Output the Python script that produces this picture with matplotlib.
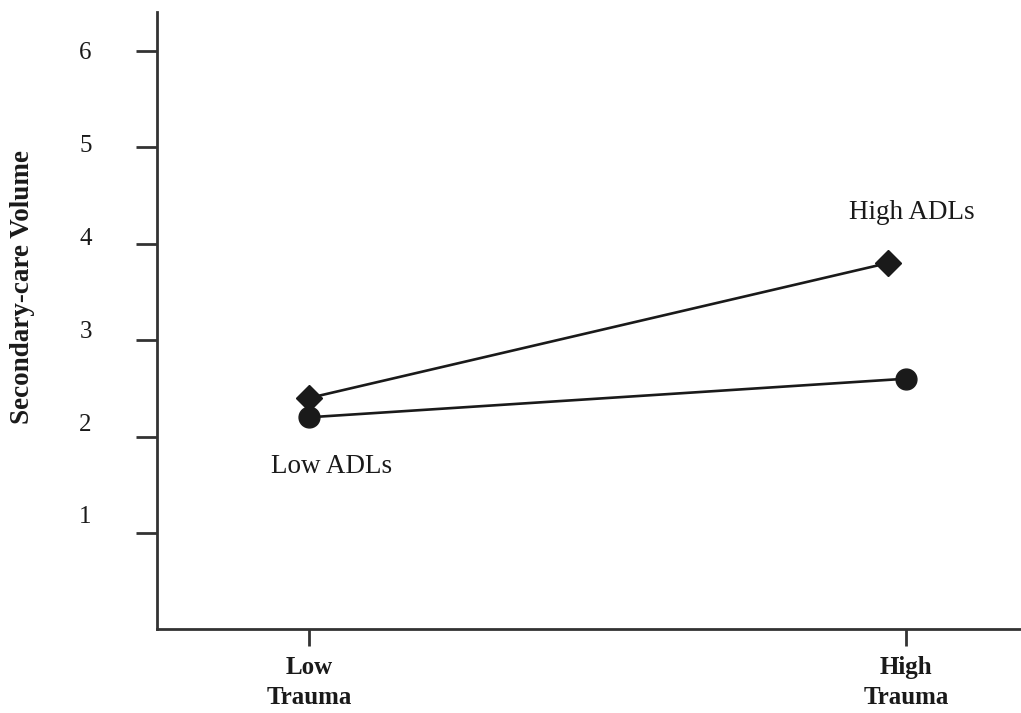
import numpy as np
import matplotlib.pyplot as plt

# trauma level on x, secondary-care volume on y, one line per ADL group
trauma_levels = ['Low\nTrauma', 'High\nTrauma']
trauma_x = [0, 1]
high_adl_x = [0, 0.97]
high_adl_y = [2.4, 3.8]
low_adl_x = [0, 1]
low_adl_y = [2.2, 2.6]
y_ticks = [1, 2, 3, 4, 5, 6]

plt.rcParams['font.family'] = ['Liberation Serif', 'DejaVu Serif']
ink = '#1a1a1a'
axis_col = '#333333'

fig = plt.figure(figsize=(10.21, 7.13), dpi=100)
ax = fig.add_axes([0.1538, 0.1173, 0.8462, 0.8653])

ax.plot(high_adl_x, high_adl_y, color=ink, lw=1.9, marker='D', markersize=13,
        zorder=3)
ax.plot(low_adl_x, low_adl_y, color=ink, lw=1.9, marker='o', markersize=15,
        zorder=3)

ax.text(1.01, 4.32, 'High ADLs', ha='center', va='center', fontsize=19.5, color=ink)
ax.text(0.037, 1.685, 'Low ADLs', ha='center', va='center', fontsize=19.5, color=ink)

ax.set_xlim(-0.255, 1.193)
ax.set_ylim(0, 6.4)

for side in ['top', 'right']:
    ax.spines[side].set_visible(False)
for side in ['left', 'bottom']:
    ax.spines[side].set_color(axis_col)
    ax.spines[side].set_linewidth(2.0)

ax.set_xticks(trauma_x)
ax.set_xticklabels(trauma_levels, fontsize=18, fontweight='bold', color=ink,
                   linespacing=1.4)
ax.tick_params(axis='x', direction='out', length=12, width=2, color=axis_col, pad=7)

# tick marks on the main axis, the numbers sit on a slightly compressed scale
ax.set_yticks(y_ticks)
ax.set_yticklabels([])
ax.tick_params(axis='y', direction='out', length=15, width=2, color=axis_col)

k = 0.9627
sec = ax.secondary_yaxis('left', functions=(lambda y: 6 - (6 - y) / k,
                                            lambda s: 6 - (6 - s) * k))
sec.set_yticks(y_ticks)
sec.set_yticklabels([str(t) for t in y_ticks], fontsize=18, color=ink)
sec.tick_params(length=0, pad=47)
sec.spines['left'].set_visible(False)

fig.text(0.022, 0.597, 'Secondary-care Volume', rotation=90, ha='center',
         va='center', fontsize=19.5, fontweight='bold', color=ink)

fig.savefig('out.png', dpi=100, facecolor='white')
